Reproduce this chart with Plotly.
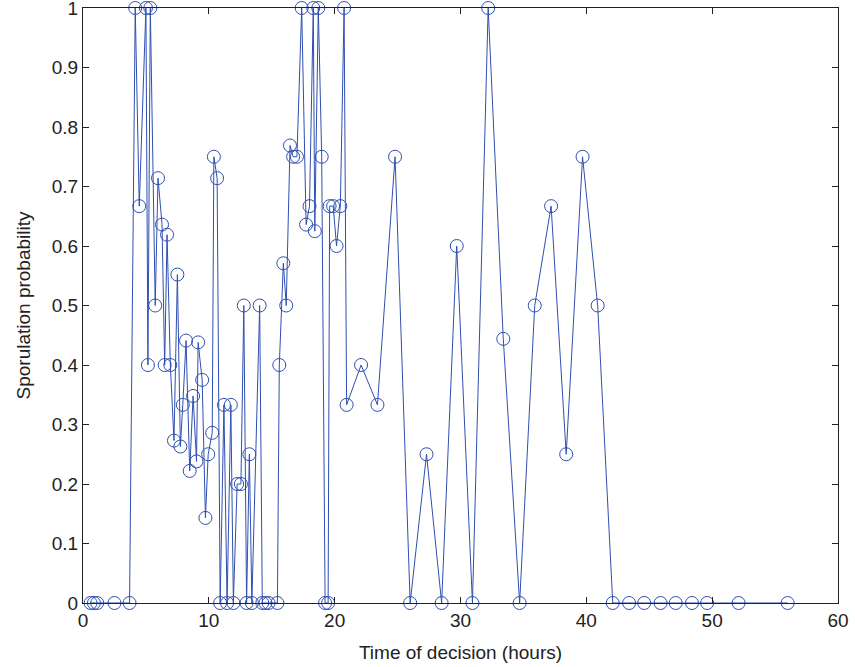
import plotly.graph_objects as go

time_h = [0.6, 0.87, 1.13, 2.5, 3.7, 4.15, 4.47, 5.0, 5.16, 5.35, 5.74, 5.96, 6.28, 6.49, 6.68, 6.94,
          7.23, 7.5, 7.74, 7.93, 8.19, 8.48, 8.75, 9.02, 9.15, 9.47, 9.73, 9.95, 10.27, 10.4, 10.66,
          10.9, 11.2, 11.45, 11.75, 11.95, 12.25, 12.55, 12.78, 13.0, 13.22, 13.42, 14.04, 14.25,
          14.5, 14.75, 15.45, 15.6, 15.92, 16.15, 16.45, 16.7, 17.0, 17.38, 17.73, 18.0, 18.3, 18.42,
          18.7, 18.97, 19.24, 19.48, 19.6, 19.88, 20.15, 20.45, 20.75, 20.95, 22.1, 23.4, 24.8, 26.0,
          27.3, 28.5, 29.7, 30.95, 32.2, 33.4, 34.7, 35.9, 37.2, 38.4, 39.7, 40.9, 42.1, 43.4, 44.6,
          45.9, 47.1, 48.4, 49.6, 52.1, 56.0]
prob = [0, 0, 0, 0, 0, 1, 0.667, 1, 0.4, 1, 0.5, 0.714, 0.636, 0.4, 0.619, 0.4,
        0.273, 0.552, 0.263, 0.333, 0.441, 0.222, 0.348, 0.238, 0.438, 0.375, 0.143, 0.25, 0.286, 0.75, 0.714,
        0, 0.333, 0, 0.333, 0, 0.2, 0.2, 0.5, 0, 0.25, 0, 0.5, 0,
        0, 0, 0, 0.4, 0.571, 0.5, 0.769, 0.75, 0.75, 1, 0.636, 0.667, 1, 0.625,
        1, 0.75, 0, 0, 0.667, 0.667, 0.6, 0.667, 1, 0.333, 0.4, 0.333, 0.75, 0,
        0.25, 0, 0.6, 0, 1, 0.444, 0, 0.5, 0.667, 0.25, 0.75, 0.5, 0, 0, 0,
        0, 0, 0, 0, 0, 0]

x_ticks = [0, 10, 20, 30, 40, 50, 60]
y_ticks = [0, 0.1, 0.2, 0.3, 0.4, 0.5, 0.6, 0.7, 0.8, 0.9, 1]
y_tick_labels = ["0", "0.1", "0.2", "0.3", "0.4", "0.5", "0.6", "0.7", "0.8", "0.9", "1"]

color = "#2f4fb0"
font_family = "Liberation Sans, Arial, sans-serif"

fig = go.Figure()
fig.add_trace(go.Scatter(
    x=time_h, y=prob, mode="lines+markers",
    line=dict(color=color, width=1),
    marker=dict(symbol="circle-open", size=13, color=color, line=dict(width=1, color=color)),
    cliponaxis=False, showlegend=False,
))

axis_common = dict(
    showgrid=False, zeroline=False, showline=True, linecolor="#222222", linewidth=1.3,
    mirror="allticks", ticks="inside", ticklen=6, tickcolor="#222222", tickwidth=1,
    tickfont=dict(family=font_family, size=19, color="#222222"),
    ticklabeloverflow="allow", automargin=False,
)

fig.update_layout(
    width=855, height=667,
    margin=dict(l=83, r=17, t=8, b=64),
    paper_bgcolor="white", plot_bgcolor="white",
    xaxis=dict(range=[0, 60], tickvals=x_ticks,
               title=dict(text="Time of decision (hours)",
                          font=dict(family=font_family, size=19, color="#222222")),
               **axis_common),
    yaxis=dict(range=[0, 1], tickvals=y_ticks, ticktext=y_tick_labels,
               title=dict(text="Sporulation probability",
                          font=dict(family=font_family, size=19, color="#222222")),
               **axis_common),
)

fig.write_html("out.html")
